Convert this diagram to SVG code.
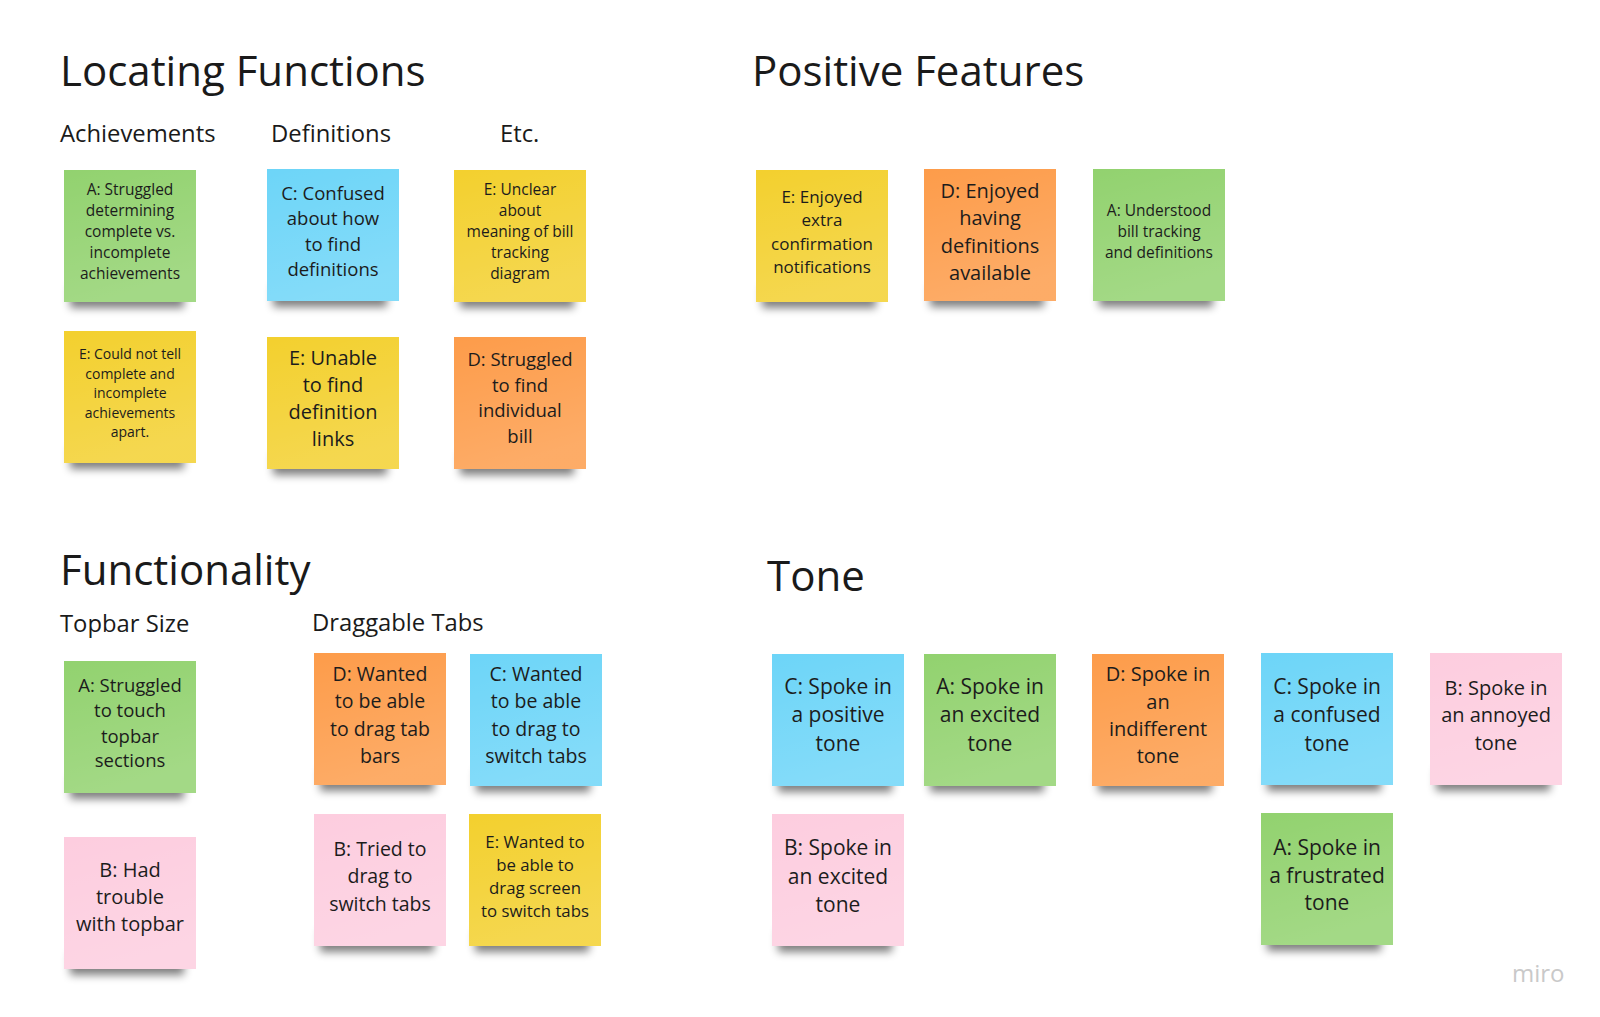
<svg xmlns="http://www.w3.org/2000/svg" width="1600" height="1017" viewBox="0 0 1600 1017">
  <defs>
    <filter id="soft" x="-20%" y="-100%" width="140%" height="300%">
      <feGaussianBlur stdDeviation="4"/>
    </filter>
    <linearGradient id="sheen" x1="0" y1="0" x2="0.3" y2="1">
      <stop offset="0" stop-color="#fff" stop-opacity="0"/>
      <stop offset="1" stop-color="#fff" stop-opacity="0.16"/>
    </linearGradient>
    <style>
      .title { font-family: "Open Sans", "Noto Sans", sans-serif; font-size: 42px; fill: #1a1a1a; }
      .sub { font-family: "Open Sans", "Noto Sans", sans-serif; font-size: 23.8px; fill: #1a1a1a; }
      .note text { font-family: "Open Sans", "Noto Sans", sans-serif; fill: #1c1c1c; text-anchor: middle; }
      .shadow { fill: #000; opacity: 0.5; filter: url(#soft); }
      .green { fill: #92d26f; }
      .blue { fill: #6dd5f8; }
      .yellow { fill: #f3d02e; }
      .orange { fill: #fd9c4a; }
      .pink { fill: #fdcddf; }
      .gloss { fill: url(#sheen); }
      .brand { font-family: "Open Sans", "Noto Sans", sans-serif; font-size: 24px; fill: #c9c9c9; }
    </style>
    <!-- one sticky-note body: shadow, paper, sheen -->
    <g id="shade"><rect class="shadow" x="6" y="116" width="114" height="22"/></g>
    <rect id="paper" width="132" height="132"/>
    <rect id="sheet" class="gloss" width="132" height="132"/>
  </defs>

  <rect width="1600" height="1017" fill="#ffffff"/>

  <!-- section headings -->
  <g id="headings">
    <text class="title" x="60" y="86">Locating Functions</text>
    <text class="title" x="752" y="86">Positive Features</text>
    <text class="title" x="60" y="585">Functionality</text>
    <text class="title" x="767" y="591">Tone</text>
    <text class="sub" x="60" y="142">Achievements</text>
    <text class="sub" x="271" y="142">Definitions</text>
    <text class="sub" x="500" y="142">Etc.</text>
    <text class="sub" x="60" y="632">Topbar Size</text>
    <text class="sub" x="312" y="631">Draggable Tabs</text>
  </g>

  <!-- no connectors on this board -->
  <g id="connectors"></g>

  <!-- Locating Functions -->
  <g id="note-achievements-a" class="note" transform="translate(64,170)">
    <use href="#shade"/><use href="#paper" class="green"/><use href="#sheet"/>
    <text font-size="15.5"><tspan x="66" y="25">A: Struggled</tspan><tspan x="66" y="46">determining</tspan><tspan x="66" y="67">complete vs.</tspan><tspan x="66" y="88">incomplete</tspan><tspan x="66" y="109">achievements</tspan></text>
  </g>
  <g id="note-definitions-c" class="note" transform="translate(267,169)">
    <use href="#shade"/><use href="#paper" class="blue"/><use href="#sheet"/>
    <text font-size="18.5"><tspan x="66" y="31">C: Confused</tspan><tspan x="66" y="56">about how</tspan><tspan x="66" y="82">to find</tspan><tspan x="66" y="107">definitions</tspan></text>
  </g>
  <g id="note-etc-e" class="note" transform="translate(454,170)">
    <use href="#shade"/><use href="#paper" class="yellow"/><use href="#sheet"/>
    <text font-size="15.5"><tspan x="66" y="25">E: Unclear</tspan><tspan x="66" y="46">about</tspan><tspan x="66" y="67">meaning of bill</tspan><tspan x="66" y="88">tracking</tspan><tspan x="66" y="109">diagram</tspan></text>
  </g>
  <g id="note-achievements-e" class="note" transform="translate(64,331)">
    <use href="#shade"/><use href="#paper" class="yellow"/><use href="#sheet"/>
    <text font-size="14"><tspan x="66" y="28">E: Could not tell</tspan><tspan x="66" y="47.5">complete and</tspan><tspan x="66" y="67">incomplete</tspan><tspan x="66" y="86.5">achievements</tspan><tspan x="66" y="106">apart.</tspan></text>
  </g>
  <g id="note-definitions-e" class="note" transform="translate(267,337)">
    <use href="#shade"/><use href="#paper" class="yellow"/><use href="#sheet"/>
    <text font-size="20"><tspan x="66" y="28">E: Unable</tspan><tspan x="66" y="55">to find</tspan><tspan x="66" y="82">definition</tspan><tspan x="66" y="109">links</tspan></text>
  </g>
  <g id="note-etc-d" class="note" transform="translate(454,337)">
    <use href="#shade"/><use href="#paper" class="orange"/><use href="#sheet"/>
    <text font-size="18.5"><tspan x="66" y="29">D: Struggled</tspan><tspan x="66" y="55">to find</tspan><tspan x="66" y="80">individual</tspan><tspan x="66" y="106">bill</tspan></text>
  </g>

  <!-- Positive Features -->
  <g id="note-positive-e" class="note" transform="translate(756,170)">
    <use href="#shade"/><use href="#paper" class="yellow"/><use href="#sheet"/>
    <text font-size="17"><tspan x="66" y="33">E: Enjoyed</tspan><tspan x="66" y="56">extra</tspan><tspan x="66" y="80">confirmation</tspan><tspan x="66" y="103">notifications</tspan></text>
  </g>
  <g id="note-positive-d" class="note" transform="translate(924,169)">
    <use href="#shade"/><use href="#paper" class="orange"/><use href="#sheet"/>
    <text font-size="20"><tspan x="66" y="29">D: Enjoyed</tspan><tspan x="66" y="56">having</tspan><tspan x="66" y="84">definitions</tspan><tspan x="66" y="111">available</tspan></text>
  </g>
  <g id="note-positive-a" class="note" transform="translate(1093,169)">
    <use href="#shade"/><use href="#paper" class="green"/><use href="#sheet"/>
    <text font-size="15.5"><tspan x="66" y="47">A: Understood</tspan><tspan x="66" y="68">bill tracking</tspan><tspan x="66" y="89">and definitions</tspan></text>
  </g>

  <!-- Functionality -->
  <g id="note-topbar-a" class="note" transform="translate(64,661)">
    <use href="#shade"/><use href="#paper" class="green"/><use href="#sheet"/>
    <text font-size="18.5"><tspan x="66" y="31">A: Struggled</tspan><tspan x="66" y="56">to touch</tspan><tspan x="66" y="82">topbar</tspan><tspan x="66" y="106">sections</tspan></text>
  </g>
  <g id="note-topbar-b" class="note" transform="translate(64,837)">
    <use href="#shade"/><use href="#paper" class="pink"/><use href="#sheet"/>
    <text font-size="20"><tspan x="66" y="40">B: Had</tspan><tspan x="66" y="67">trouble</tspan><tspan x="66" y="94">with topbar</tspan></text>
  </g>
  <g id="note-drag-d" class="note" transform="translate(314,653)">
    <use href="#shade"/><use href="#paper" class="orange"/><use href="#sheet"/>
    <text font-size="19.5"><tspan x="66" y="28">D: Wanted</tspan><tspan x="66" y="55">to be able</tspan><tspan x="66" y="83">to drag tab</tspan><tspan x="66" y="110">bars</tspan></text>
  </g>
  <g id="note-drag-c" class="note" transform="translate(470,654)">
    <use href="#shade"/><use href="#paper" class="blue"/><use href="#sheet"/>
    <text font-size="19.5"><tspan x="66" y="27">C: Wanted</tspan><tspan x="66" y="54">to be able</tspan><tspan x="66" y="82">to drag to</tspan><tspan x="66" y="109">switch tabs</tspan></text>
  </g>
  <g id="note-drag-b" class="note" transform="translate(314,814)">
    <use href="#shade"/><use href="#paper" class="pink"/><use href="#sheet"/>
    <text font-size="19.5"><tspan x="66" y="42">B: Tried to</tspan><tspan x="66" y="69">drag to</tspan><tspan x="66" y="97">switch tabs</tspan></text>
  </g>
  <g id="note-drag-e" class="note" transform="translate(469,814)">
    <use href="#shade"/><use href="#paper" class="yellow"/><use href="#sheet"/>
    <text font-size="16.8"><tspan x="66" y="34">E: Wanted to</tspan><tspan x="66" y="57">be able to</tspan><tspan x="66" y="80">drag screen</tspan><tspan x="66" y="103">to switch tabs</tspan></text>
  </g>

  <!-- Tone -->
  <g id="note-tone-c1" class="note" transform="translate(772,654)">
    <use href="#shade"/><use href="#paper" class="blue"/><use href="#sheet"/>
    <text font-size="21"><tspan x="66" y="40">C: Spoke in</tspan><tspan x="66" y="68">a positive</tspan><tspan x="66" y="97">tone</tspan></text>
  </g>
  <g id="note-tone-a1" class="note" transform="translate(924,654)">
    <use href="#shade"/><use href="#paper" class="green"/><use href="#sheet"/>
    <text font-size="21"><tspan x="66" y="40">A: Spoke in</tspan><tspan x="66" y="68">an excited</tspan><tspan x="66" y="97">tone</tspan></text>
  </g>
  <g id="note-tone-d" class="note" transform="translate(1092,654)">
    <use href="#shade"/><use href="#paper" class="orange"/><use href="#sheet"/>
    <text font-size="20"><tspan x="66" y="27">D: Spoke in</tspan><tspan x="66" y="55">an</tspan><tspan x="66" y="82">indifferent</tspan><tspan x="66" y="109">tone</tspan></text>
  </g>
  <g id="note-tone-c2" class="note" transform="translate(1261,653)">
    <use href="#shade"/><use href="#paper" class="blue"/><use href="#sheet"/>
    <text font-size="21"><tspan x="66" y="41">C: Spoke in</tspan><tspan x="66" y="69">a confused</tspan><tspan x="66" y="98">tone</tspan></text>
  </g>
  <g id="note-tone-b1" class="note" transform="translate(1430,653)">
    <use href="#shade"/><use href="#paper" class="pink"/><use href="#sheet"/>
    <text font-size="20"><tspan x="66" y="42">B: Spoke in</tspan><tspan x="66" y="69">an annoyed</tspan><tspan x="66" y="97">tone</tspan></text>
  </g>
  <g id="note-tone-b2" class="note" transform="translate(772,814)">
    <use href="#shade"/><use href="#paper" class="pink"/><use href="#sheet"/>
    <text font-size="21"><tspan x="66" y="41">B: Spoke in</tspan><tspan x="66" y="70">an excited</tspan><tspan x="66" y="98">tone</tspan></text>
  </g>
  <g id="note-tone-a2" class="note" transform="translate(1261,813)">
    <use href="#shade"/><use href="#paper" class="green"/><use href="#sheet"/>
    <text font-size="21"><tspan x="66" y="42">A: Spoke in</tspan><tspan x="66" y="70">a frustrated</tspan><tspan x="66" y="97">tone</tspan></text>
  </g>

  <!-- board watermark -->
  <text class="brand" x="1512" y="982">miro</text>
</svg>
